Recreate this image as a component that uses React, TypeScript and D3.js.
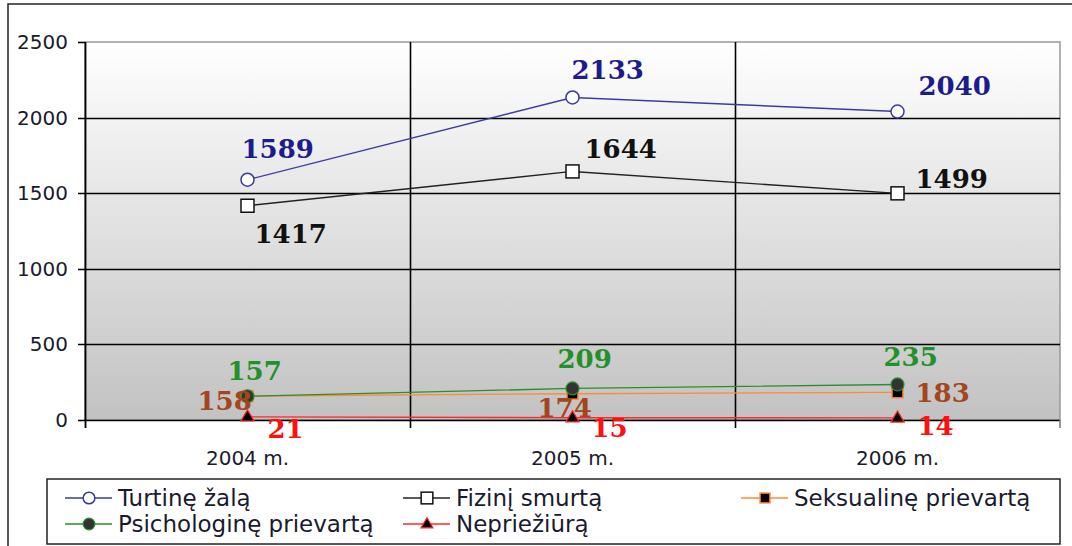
import React from 'react';
import * as d3 from 'd3';

const years = ['2004 m.', '2005 m.', '2006 m.'];
const turtine = [1589, 2133, 2040];
const fizini = [1417, 1644, 1499];
const seksualine = [158, 174, 183];
const psichologine = [157, 209, 235];
const nepriežiura = [21, 15, 14];
const yTicks = [0, 500, 1000, 1500, 2000, 2500];

type Marker = 'circleOpen' | 'squareOpen' | 'squareFill' | 'circleFill' | 'triangle';

interface Series {
  name: string;
  values: number[];
  line: string;
  label: string;
  marker: Marker;
  // label offsets from the point (dx, dy of text start / baseline)
  offsets: [number, number][];
}

const series: Series[] = [
  { name: 'Turtinę žalą', values: turtine, line: '#3b3b9e', label: '#1c1c8c', marker: 'circleOpen',
    offsets: [[-6, -22], [-1, -18], [21, -17]] },
  { name: 'Fizinį smurtą', values: fizini, line: '#222', label: '#111', marker: 'squareOpen',
    offsets: [[7, 37], [12, -13], [18, -5]] },
  { name: 'Seksualinę prievartą', values: seksualine, line: '#ff8a3a', label: '#a2461e', marker: 'squareFill',
    offsets: [[-50, 14], [-35, 23], [18, 10]] },
  { name: 'Psichologinę prievartą', values: psichologine, line: '#2a8f2a', label: '#23902a', marker: 'circleFill',
    offsets: [[-20, -16], [-15, -20], [-14, -18]] },
  { name: 'Nepriežiūrą', values: nepriežiura, line: '#ff2a2a', label: '#ff1010', marker: 'triangle',
    offsets: [[20, 21], [19, 19], [20, 17]] },
];

const legendOrder = [0, 1, 2, 3, 4];

const W = 1072;
const H = 546;
const plot = { left: 85, right: 1060, top: 42, bottom: 420 };

function MarkerShape({ kind, x, y, color, s = 1 }: { kind: Marker; x: number; y: number; color: string; s?: number }) {
  switch (kind) {
    case 'circleOpen':
      return <circle cx={x} cy={y} r={6.5 * s} fill="#fff" stroke={color} strokeWidth={1.5} />;
    case 'squareOpen':
      return <rect x={x - 6.5 * s} y={y - 6.5 * s} width={13 * s} height={13 * s} fill="#fff" stroke="#111" strokeWidth={1.5} />;
    case 'squareFill':
      return <rect x={x - 5.5 * s} y={y - 5.5 * s} width={11 * s} height={11 * s} fill="#000" stroke={color} strokeWidth={1.5} />;
    case 'circleFill':
      return <circle cx={x} cy={y} r={6.5 * s} fill="#333" stroke={color} strokeWidth={1.2} />;
    case 'triangle': {
      const r = 7 * s;
      const p = d3.path();
      p.moveTo(x, y - r);
      p.lineTo(x + r * 0.95, y + r * 0.6);
      p.lineTo(x - r * 0.95, y + r * 0.6);
      p.closePath();
      return <path d={p.toString()} fill="#000" stroke={color} strokeWidth={1.2} />;
    }
  }
}

export default function App() {
  const x = d3.scaleBand().domain(years).range([plot.left, plot.right]).padding(0);
  const cx = (d: string) => (x(d) ?? 0) + x.bandwidth() / 2;
  const y = d3.scaleLinear().domain([0, 2500]).range([plot.bottom, plot.top]);
  const line = d3.line<[number, number]>().x((d) => d[0]).y((d) => d[1]);

  const gridX = years.slice(1).map((d) => Math.round(x(d) ?? 0) + 0.5);
  const gy = (t: number) => Math.round(y(t)) + 0.5;

  // legend layout
  const legCols = [65, 403, 741];
  const legRows = [498, 524];

  return (
    <svg width={W} height={H} style={{ position: 'absolute', left: 0, top: 0, background: '#fff' }}>
      <defs>
        <linearGradient id="bg" x1="0" y1="0" x2="0" y2="1">
          <stop offset="0" stopColor="#ffffff" />
          <stop offset="1" stopColor="#c2c2c2" />
        </linearGradient>
      </defs>

      {/* outer frame */}
      <rect x={8} y={4} width={1200} height={700} fill="#fff" stroke="#222" strokeWidth={1.5} />

      {/* plot area */}
      <rect x={plot.left} y={plot.top} width={plot.right - plot.left} height={plot.bottom - plot.top} fill="url(#bg)" stroke="#999" strokeWidth={1.5} />

      {/* horizontal grid */}
      {yTicks.filter((t) => t < 2500).map((t) => (
        <line key={t} x1={plot.left - 7} x2={plot.right} y1={gy(t)} y2={gy(t)} stroke="#000" strokeWidth={1.6} />
      ))}
      <line x1={plot.left - 7} x2={plot.left} y1={gy(2500)} y2={gy(2500)} stroke="#000" strokeWidth={1.6} />

      {/* vertical grid + category ticks */}
      {gridX.map((gx, i) => (
        <line key={i} x1={gx} x2={gx} y1={plot.top} y2={plot.bottom + 8} stroke="#000" strokeWidth={1.6} />
      ))}
      <line x1={plot.left + 0.5} x2={plot.left + 0.5} y1={plot.top} y2={plot.bottom + 8} stroke="#000" strokeWidth={1.8} />
      <line x1={plot.right} x2={plot.right} y1={plot.bottom} y2={plot.bottom + 8} stroke="#777" strokeWidth={1.5} />

      {/* y tick labels */}
      {yTicks.map((t) => (
        <text key={t} x={68} y={y(t) + 7} textAnchor="end" fontFamily="DejaVu Sans" fontSize={20} fill="#1a1a2e">
          {t}
        </text>
      ))}

      {/* x tick labels */}
      {years.map((d) => (
        <text key={d} x={cx(d)} y={465} textAnchor="middle" fontFamily="DejaVu Sans" fontSize={20} fill="#1a1a2e">
          {d}
        </text>
      ))}

      {/* lines */}
      {series.map((s) => (
        <path key={s.name} d={line(years.map((d, i) => [cx(d), y(s.values[i])])) ?? ''} fill="none" stroke={s.line} strokeWidth={1.4} />
      ))}

      {/* markers */}
      {series.map((s) => (
        <g key={s.name}>
          {years.map((d, i) => (
            <MarkerShape key={d} kind={s.marker} x={cx(d)} y={y(s.values[i])} color={s.line} />
          ))}
        </g>
      ))}

      {/* data labels */}
      {series.map((s) => (
        <g key={s.name}>
          {years.map((d, i) => (
            <text key={d} x={cx(d) + s.offsets[i][0]} y={y(s.values[i]) + s.offsets[i][1]}
              fontFamily="DejaVu Serif" fontWeight="bold" fontSize={26} fill={s.label}>
              {s.values[i]}
            </text>
          ))}
        </g>
      ))}

      {/* legend */}
      <rect x={47} y={479} width={1013} height={65} fill="#fff" stroke="#222" strokeWidth={1.5} />
      {legendOrder.map((idx, k) => {
        const s = series[idx];
        const lx = legCols[k % 3];
        const ly = legRows[Math.floor(k / 3)];
        return (
          <g key={s.name}>
            <line x1={lx} x2={lx + 47} y1={ly} y2={ly} stroke={s.line} strokeWidth={1.5} />
            <MarkerShape kind={s.marker} x={lx + 24} y={ly} color={s.line} s={0.9} />
            <text x={lx + 53} y={ly + 8} fontFamily="DejaVu Sans" fontSize={23} fill="#1a1a2e">
              {s.name}
            </text>
          </g>
        );
      })}
    </svg>
  );
}
